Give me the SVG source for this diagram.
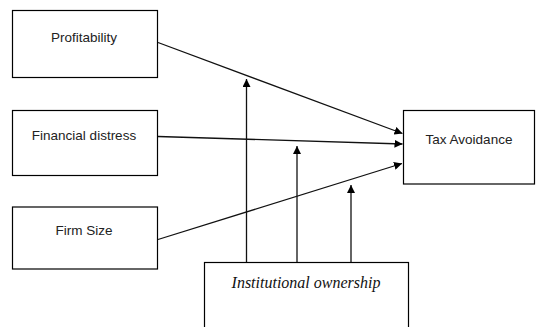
<svg xmlns="http://www.w3.org/2000/svg" width="536" height="327" viewBox="0 0 536 327">
<style>
.box{fill:#fff;stroke:#000;stroke-width:1.2}
.lbl{font-family:"Liberation Sans",Arial,sans-serif;font-size:13.5px;fill:#222;text-anchor:middle}
.it{font-family:"Liberation Serif","Times New Roman",serif;font-style:italic;font-size:16px;fill:#111;text-anchor:middle}
.c{stroke:#111;stroke-width:1.3;fill:none;marker-end:url(#ah)}
</style>
<defs>
<marker id="ah" viewBox="0 0 10 10" refX="10" refY="5" markerWidth="8" markerHeight="8" markerUnits="userSpaceOnUse" orient="auto">
<path d="M0,0 L10,5 L0,10 z" fill="#000"/>
</marker>
</defs>
<rect width="536" height="327" fill="#fff"/>
<g id="connectors">
<line class="c" x1="158" y1="42.5" x2="402.5" y2="133.5"/>
<line class="c" x1="158" y1="136.5" x2="402.5" y2="144"/>
<line class="c" x1="158" y1="239.5" x2="402" y2="163.5"/>
<line class="c" x1="246.5" y1="262" x2="246.5" y2="79"/>
<line class="c" x1="297" y1="262" x2="297" y2="146"/>
<line class="c" x1="351" y1="262" x2="351" y2="185"/>
</g>
<g id="profitability">
<rect class="box" x="12.5" y="10.5" width="145" height="67"/>
<text class="lbl" x="84" y="42">Profitability</text>
</g>
<g id="financial-distress">
<rect class="box" x="12.5" y="110.5" width="145" height="65"/>
<text class="lbl" x="84" y="140">Financial distress</text>
</g>
<g id="firm-size">
<rect class="box" x="12.5" y="207" width="145" height="62"/>
<text class="lbl" x="84" y="235">Firm Size</text>
</g>
<g id="tax-avoidance">
<rect class="box" x="403.5" y="110.5" width="131" height="73.5"/>
<text class="lbl" x="469" y="144">Tax Avoidance</text>
</g>
<g id="institutional-ownership">
<rect class="box" x="204.5" y="262.5" width="204" height="70"/>
<text class="it" x="306" y="288">Institutional ownership</text>
</g>
</svg>
